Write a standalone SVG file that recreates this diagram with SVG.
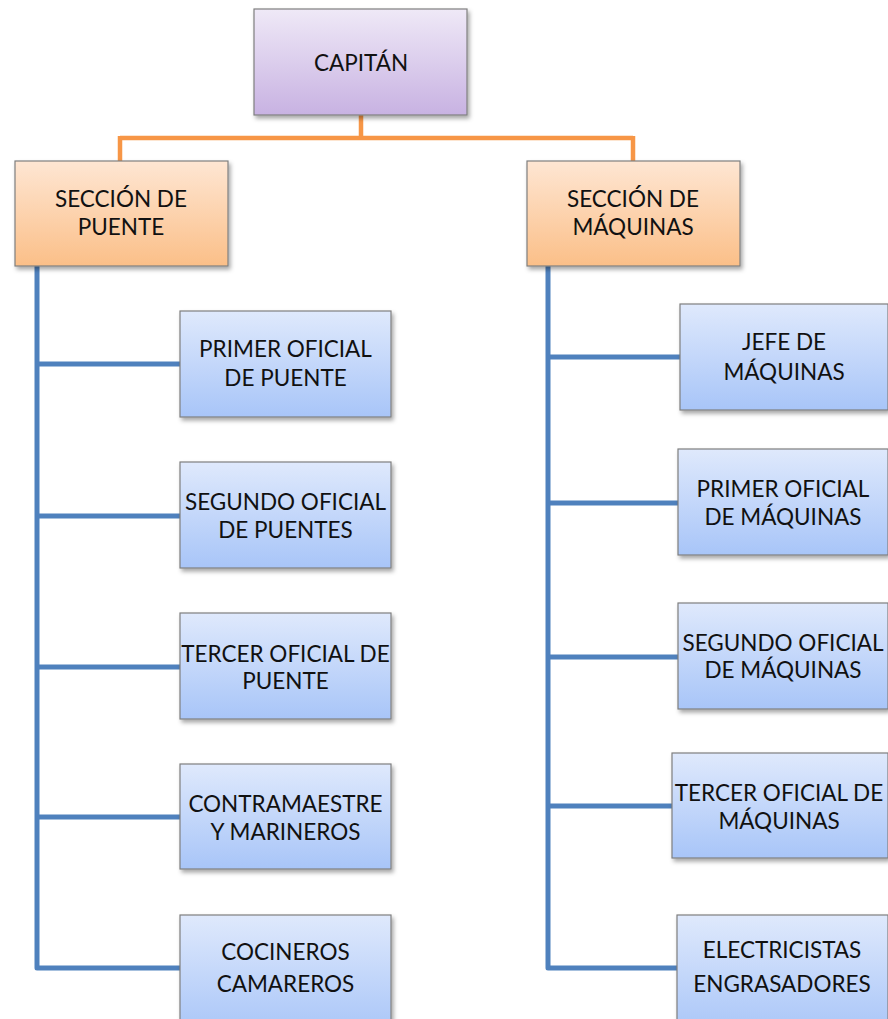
<svg xmlns="http://www.w3.org/2000/svg" width="888" height="1019" viewBox="0 0 888 1019">
<style>
.box{stroke:#7f7f7f;stroke-width:1.2;filter:url(#sh)}
.p{fill:url(#gp)}
.o{fill:url(#go)}
.b{fill:url(#gb)}
text{font-family:Lato,"Open Sans","Liberation Sans",sans-serif;font-size:22.5px;fill:#111;text-anchor:middle}
.co{stroke:#f79646;stroke-width:4.5;fill:none}
.cb{stroke:#4f81bd;stroke-width:5;fill:none;stroke-linejoin:round}
</style>
<defs>
<linearGradient id="gp" x1="0" y1="0" x2="0" y2="1"><stop offset="0" stop-color="#efe9f7"/><stop offset="1" stop-color="#c8b2e2"/></linearGradient>
<linearGradient id="go" x1="0" y1="0" x2="0" y2="1"><stop offset="0" stop-color="#fee6d3"/><stop offset="1" stop-color="#fbbf88"/></linearGradient>
<linearGradient id="gb" x1="0" y1="0" x2="0" y2="1"><stop offset="0" stop-color="#dfe9fc"/><stop offset="1" stop-color="#a8c5f8"/></linearGradient>
<filter id="sh" x="-10%" y="-10%" width="130%" height="130%"><feDropShadow dx="2" dy="3" stdDeviation="2" flood-color="#000" flood-opacity="0.35"/></filter>
</defs>
<g id="connectors">
<path class="co" d="M361 115 V138 M120 138 H633 M120 136 V161 M633 136 V161"/>
<path class="cb" d="M37 266 V968 H180 M37 364 H180 M37 516 H180 M37 667 H180 M37 817 H180"/>
<path class="cb" d="M548 266 V968 H678 M548 357 H680 M548 503 H680 M548 657 H680 M548 806 H680"/>
</g>
<g id="capitan"><rect class="box p" x="254" y="9" width="213" height="106"/><text x="361" y="71" font-size="23.5">CAPITÁN</text></g>
<g id="seccion-puente"><rect class="box o" x="15" y="161" width="213" height="105"/><text x="121" y="207">SECCIÓN DE</text><text x="121" y="235">PUENTE</text></g>
<g id="seccion-maquinas"><rect class="box o" x="527" y="161" width="213" height="105"/><text x="633" y="207">SECCIÓN DE</text><text x="633" y="235">MÁQUINAS</text></g>
<g id="primer-oficial-puente"><rect class="box b" x="180" y="311" width="211" height="106"/><text x="285.5" y="357">PRIMER OFICIAL</text><text x="285.5" y="386">DE PUENTE</text></g>
<g id="segundo-oficial-puentes"><rect class="box b" x="180" y="462" width="211" height="106"/><text x="285.5" y="510">SEGUNDO OFICIAL</text><text x="285.5" y="538">DE PUENTES</text></g>
<g id="tercer-oficial-puente"><rect class="box b" x="180" y="613" width="211" height="106"/><text x="285.5" y="662">TERCER OFICIAL DE</text><text x="285.5" y="689">PUENTE</text></g>
<g id="contramaestre"><rect class="box b" x="180" y="764" width="211" height="105"/><text x="285.5" y="812">CONTRAMAESTRE</text><text x="285.5" y="840">Y MARINEROS</text></g>
<g id="cocineros"><rect class="box b" x="180" y="915" width="211" height="120"/><text x="285.5" y="960">COCINEROS</text><text x="285.5" y="992">CAMAREROS</text></g>
<g id="jefe-maquinas"><rect class="box b" x="680" y="304" width="208" height="106"/><text x="784" y="350">JEFE DE</text><text x="784" y="380">MÁQUINAS</text></g>
<g id="primer-oficial-maquinas"><rect class="box b" x="678" y="449" width="210" height="106"/><text x="783" y="497">PRIMER OFICIAL</text><text x="783" y="525">DE MÁQUINAS</text></g>
<g id="segundo-oficial-maquinas"><rect class="box b" x="678" y="603" width="210" height="106"/><text x="783" y="651">SEGUNDO OFICIAL</text><text x="783" y="678">DE MÁQUINAS</text></g>
<g id="tercer-oficial-maquinas"><rect class="box b" x="672" y="753" width="216" height="105"/><text x="779" y="801">TERCER OFICIAL DE</text><text x="779" y="829">MÁQUINAS</text></g>
<g id="electricistas"><rect class="box b" x="677" y="915" width="211" height="120"/><text x="782" y="958">ELECTRICISTAS</text><text x="782" y="992">ENGRASADORES</text></g>
</svg>
